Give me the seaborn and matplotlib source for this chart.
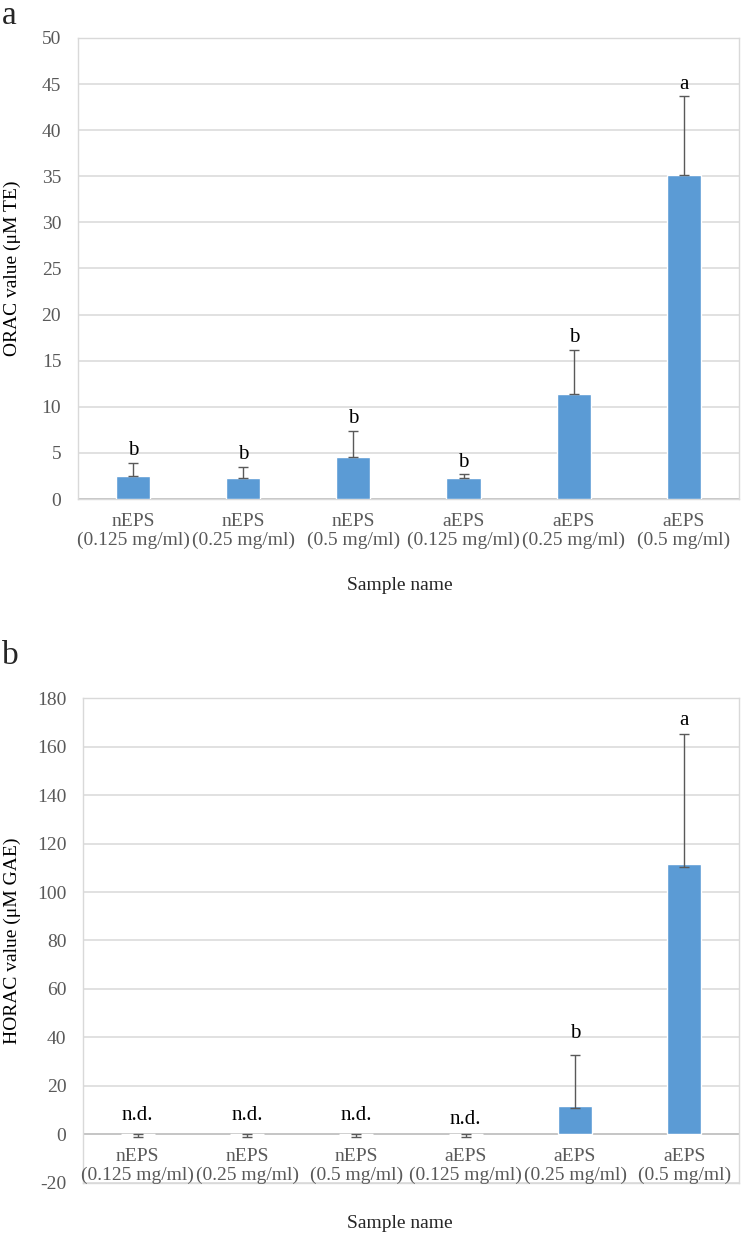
import pandas as pd
import numpy as np
import seaborn as sns
import matplotlib.pyplot as plt

samples = ["nEPS\n(0.125 mg/ml)", "nEPS\n(0.25 mg/ml)", "nEPS\n(0.5 mg/ml)",
           "aEPS\n(0.125 mg/ml)", "aEPS\n(0.25 mg/ml)", "aEPS\n(0.5 mg/ml)"]

# panel a - ORAC
orac = [2.53, 2.31, 4.55, 2.24, 11.35, 35.1]
orac_err_up = [1.41, 1.19, 2.82, 0.44, 4.81, 8.65]
orac_err_lo = [0, 0, 0, 0, 0, 0]
orac_letters = ["b", "b", "b", "b", "b", "a"]

# panel b - HORAC
horac = [0, 0, 0, 0, 11.8, 111.5]
horac_err_up = [0, 0, 0, 0, 20.8, 53.5]
horac_err_lo = [1.1, 1.1, 1.1, 1.1, 0.9, 1.0]
horac_letters = ["n.d.", "n.d.", "n.d.", "n.d.", "b", "a"]

BAR = "#5B9BD5"
GRID = "#d9d9d9"
TICK = "#595959"

sns.set_style("white")
plt.rcParams["font.family"] = ["Liberation Serif", "DejaVu Serif"]
plt.rcParams["axes.unicode_minus"] = False

fig = plt.figure(figsize=(7.42, 12.37), dpi=100)
ax_a = fig.add_axes([0.105, 0.5966, 0.891, 0.3727])
ax_b = fig.add_axes([0.112, 0.0437, 0.884, 0.3920])


def draw_panel(ax, vals, lo, up, letters, ymin, ymax, step, ylabel, label_x, letter_offsets):
    df = pd.DataFrame({"sample": samples, "value": vals})
    sns.barplot(data=df, x="sample", y="value", color=BAR, width=0.31,
                errorbar=None, saturation=1, ax=ax, zorder=3)
    pos = np.arange(len(samples))
    ax.errorbar(pos, vals, yerr=[lo, up], fmt="none", ecolor="#595959",
                elinewidth=1.0, capsize=3.5, capthick=1.0, zorder=4)
    for i, t in enumerate(letters):
        top = vals[i] + up[i]
        ax.annotate(t, (pos[i], top), xytext=(0, letter_offsets[i]),
                    textcoords="offset points", ha="center", va="bottom",
                    fontsize=15, color="black")
    ax.set_ylim(ymin, ymax)
    ax.set_xlim(-0.5, len(samples) - 0.5)
    ax.set_yticks(np.arange(ymin, ymax + step / 2, step))
    ax.yaxis.grid(True, color=GRID, linewidth=1.1, zorder=0)
    ax.set_axisbelow(True)
    ax.axhline(0, color="#bfbfbf", linewidth=1.1, zorder=2)
    for s in ax.spines.values():
        s.set_color(GRID)
        s.set_linewidth(1.0)
    ax.tick_params(axis="y", length=0, pad=12, labelsize=14, labelcolor=TICK)
    ax.tick_params(axis="x", length=0, labelbottom=False)
    ax.set_xlabel("")
    for i, t in enumerate(samples):
        ax.annotate(t, (pos[i], 0), xytext=(0, -10), textcoords="offset points",
                    ha="center", va="top", fontsize=14, color=TICK,
                    linespacing=1.1, annotation_clip=False)
    ax.set_ylabel(ylabel, fontsize=14, color="black")
    ax.yaxis.set_label_coords(label_x, 0.5)


draw_panel(ax_a, orac, orac_err_lo, orac_err_up, orac_letters, 0, 50, 5,
           "ORAC value (\u03bcM TE)", -0.086, [2, 2, 2, 2, 2, 1])
draw_panel(ax_b, horac, horac_err_lo, horac_err_up, horac_letters, -20, 180, 20,
           "HORAC value (\u03bcM GAE)", -0.094, [7, 7, 7, 4, 9, 3])

fig.text(400 / 742, 1 - 585 / 1237, "Sample name", ha="center", va="center", fontsize=14)
fig.text(400 / 742, 1 - 1223 / 1237, "Sample name", ha="center", va="center", fontsize=14)
fig.text(0.003, 1 - 16 / 1237, "a", ha="left", va="center", fontsize=24)
fig.text(0.003, 1 - 656 / 1237, "b", ha="left", va="center", fontsize=24)

fig.savefig("out.png", dpi=100)
